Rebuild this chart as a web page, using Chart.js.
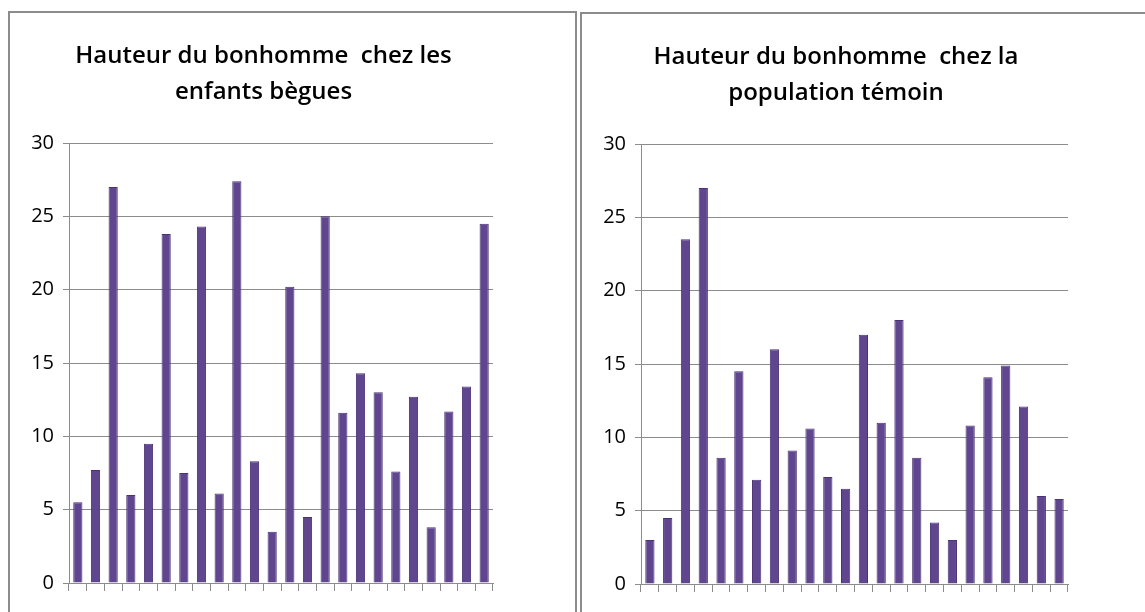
<!DOCTYPE html>
<html>
<head>
<meta charset="utf-8">
<script src="https://cdn.jsdelivr.net/npm/chart.js@4"></script>
<style>
  html, body { margin: 0; padding: 0; background: #fff; overflow: hidden; }
  .box {
    position: absolute;
    border: 2px solid #8c8c8c;
    background: #fff;
  }
  .box canvas { display: block; }
</style>
</head>
<body>
<div class="box" style="left:8px; top:11px; width:565px; height:620px;">
  <canvas id="chartBegues" width="565" height="600"></canvas>
</div>
<div class="box" style="left:580px; top:12px; width:600px; height:620px;">
  <canvas id="chartTemoin" width="565" height="600"></canvas>
</div>
<script>
const children = ['1', '2', '3', '4', '5', '6', '7', '8', '9', '10', '11', '12',
  '13', '14', '15', '16', '17', '18', '19', '20', '21', '22', '23', '24'];

const heightsBegues = [5.5, 7.7, 27, 6, 9.5, 23.8, 7.5, 24.3, 6.1, 27.4, 8.3, 3.5,
  20.2, 4.5, 25, 11.6, 14.3, 13, 7.6, 12.7, 3.8, 11.7, 13.4, 24.5];

const heightsTemoin = [3, 4.5, 23.5, 27, 8.6, 14.5, 7.1, 16, 9.1, 10.6, 7.3, 6.5,
  17, 11, 18, 8.6, 4.2, 3, 10.8, 14.1, 14.9, 12.1, 6, 5.8];

const yTicks = [0, 5, 10, 15, 20, 25, 30];

const titleBegues = ['Hauteur du bonhomme  chez les', 'enfants bègues'];
const titleTemoin = ['Hauteur du bonhomme  chez la', 'population témoin'];

const gridGray = '#8c8c8c';
const fontFamily = "'Open Sans', 'Noto Sans', sans-serif";

// padRight: space right of the title box, spacer: empty gap between bars and title box edge
const makeChart = (canvasId, title, values, padRight, spacer) => {
  const ctx = document.getElementById(canvasId).getContext('2d');
  return new Chart(ctx, {
    type: 'bar',
    data: {
      labels: children,
      datasets: [
        {
          data: values,
          backgroundColor: '#60468f',
          borderColor: '#4a3374',
          borderWidth: 1,
          barPercentage: 0.52,
          categoryPercentage: 1,
        },
      ],
    },
    options: {
      responsive: false,
      animation: false,
      layout: {
        padding: { left: 0, right: padRight, top: 0, bottom: 22 },
      },
      plugins: {
        legend: { display: false },
        tooltip: { enabled: false },
        title: {
          display: true,
          text: title,
          color: '#000',
          font: { family: fontFamily, size: 24, weight: '600', lineHeight: 1.5 },
          padding: { top: 25, bottom: 33 },
        },
      },
      scales: {
        x: {
          grid: {
            drawOnChartArea: false,
            drawTicks: true,
            tickLength: 8,
            color: gridGray,
            offset: true,
          },
          border: { display: true, color: gridGray },
          ticks: { display: false },
        },
        y: {
          min: 0,
          max: 30,
          afterFit: (scale) => { scale.width = 59; },
          afterBuildTicks: (scale) => {
            scale.ticks = yTicks.map((v) => ({ value: v }));
          },
          grid: { color: gridGray, tickLength: 6 },
          border: { display: true, color: gridGray },
          ticks: {
            color: '#000',
            padding: 9,
            font: { family: fontFamily, size: 20 },
          },
        },
        gap: {
          type: 'linear',
          position: 'right',
          display: true,
          afterFit: (scale) => { scale.width = spacer; },
          grid: { display: false },
          border: { display: false },
          ticks: { display: false },
        },
      },
    },
  });
};

makeChart('chartBegues', titleBegues, heightsBegues, 58, 24);
makeChart('chartTemoin', titleTemoin, heightsTemoin, 57, 22);
</script>
</body>
</html>
